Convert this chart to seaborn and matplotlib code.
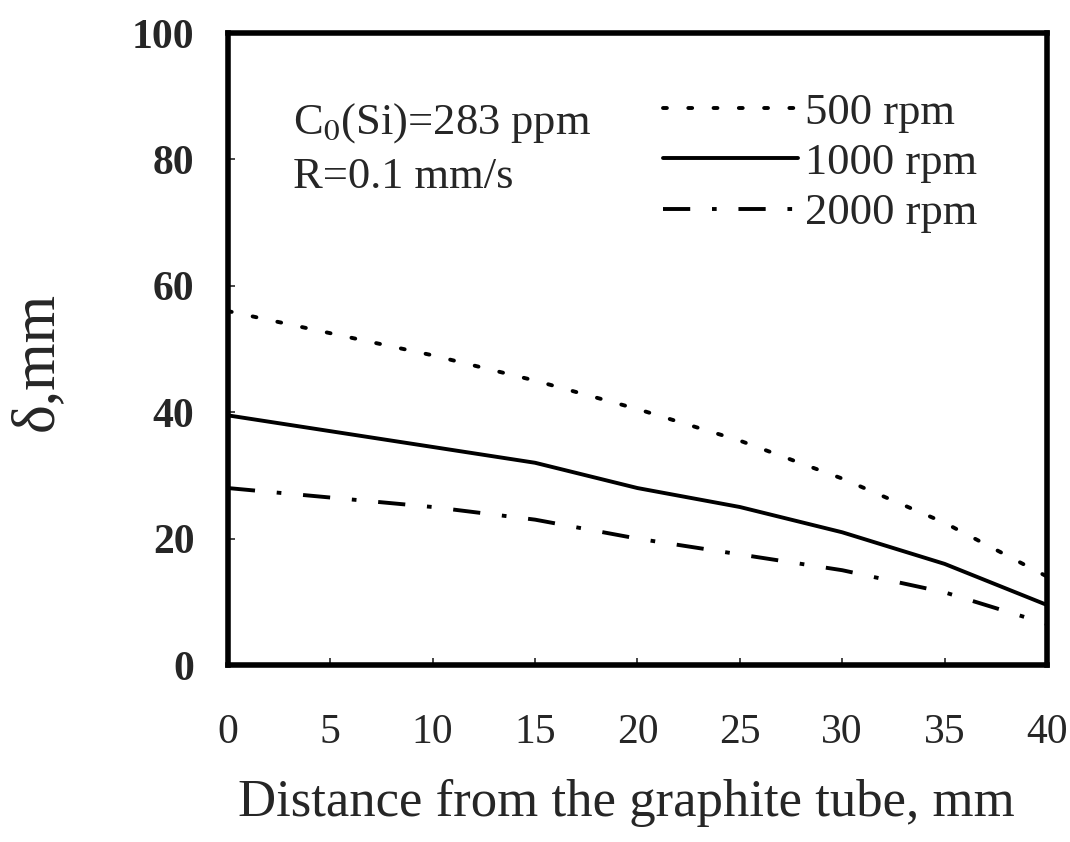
import numpy as np
import pandas as pd
import seaborn as sns
import matplotlib.pyplot as plt

# distance from graphite tube (mm) and boundary layer thickness (mm)
distance = [0, 5, 10, 15, 20, 25, 30, 35, 40]
delta_500 = [56, 52.5, 49, 45, 40.5, 35.5, 29.5, 22.5, 14]
delta_1000 = [39.5, 37, 34.5, 32, 28, 25, 21, 16, 9.5]
delta_2000 = [28, 26.5, 25, 23, 20, 17.5, 15, 11.5, 6.5]
series_labels = ['500 rpm', '1000 rpm', '2000 rpm']
x_ticks = [0, 5, 10, 15, 20, 25, 30, 35, 40]
y_ticks = [0, 20, 40, 60, 80, 100]

sns.set_theme(style='ticks')
plt.rcParams['font.family'] = ['Liberation Serif', 'DejaVu Serif']
plt.rcParams['mathtext.fontset'] = 'stix'

df = pd.DataFrame({'x': distance * 3,
                   'y': delta_500 + delta_1000 + delta_2000,
                   'speed': np.repeat(series_labels, len(distance))})

fig = plt.figure(figsize=(10.7, 8.42), dpi=100)
ax = fig.add_axes([0.213, 0.2102, 0.7655, 0.7506])

lw = 2.8
styles = {'500 rpm': (0, (1, 5.5)),
          '1000 rpm': '-',
          '2000 rpm': (0, (7, 5.6, 1.2, 5.6))}
for lab in series_labels:
    sub = df[df['speed'] == lab]
    sns.lineplot(data=sub, x='x', y='y', ax=ax, color='black', lw=lw,
                 linestyle=styles[lab], label=lab)
ax.get_lines()[0].set_dash_capstyle('round')

ax.set_xlim(0, 40)
ax.set_ylim(0, 100)
ax.set_xticks(x_ticks)
ax.set_yticks(y_ticks)
ax.set_xticklabels([str(t) for t in x_ticks], fontsize=30)
ax.set_yticklabels([str(t) for t in y_ticks], fontsize=30, fontweight='bold')
ax.tick_params(axis='x', direction='in', length=5, width=1.2, pad=35, top=False)
ax.tick_params(axis='y', direction='in', length=5, width=1.2, pad=24, right=False)
for sp in ax.spines.values():
    sp.set_linewidth(4)
    sp.set_color('black')

ax.set_xlabel('Distance from the graphite tube, mm', fontsize=38)
ax.xaxis.set_label_coords(0.487, -0.18)
ax.set_ylabel('δ,mm', fontsize=44)
ax.yaxis.set_label_coords(-0.199, 0.48)

ax.text(0.079, 0.858, 'C$_0$(Si)=283 ppm', transform=ax.transAxes, fontsize=32,
        va='center', ha='left')
ax.text(0.079, 0.772, 'R=0.1 mm/s', transform=ax.transAxes, fontsize=32,
        va='center', ha='left')

leg = ax.legend(loc='upper right', bbox_to_anchor=(0.915, 0.906), frameon=False,
                fontsize=32, handlelength=3.05, handletextpad=0.15,
                labelspacing=0.23, borderaxespad=0, borderpad=0)
for ln in leg.get_lines():
    ln.set_linewidth(lw)
leg.get_lines()[0].set_dash_capstyle('round')

fig.savefig('out.png', dpi=100)
